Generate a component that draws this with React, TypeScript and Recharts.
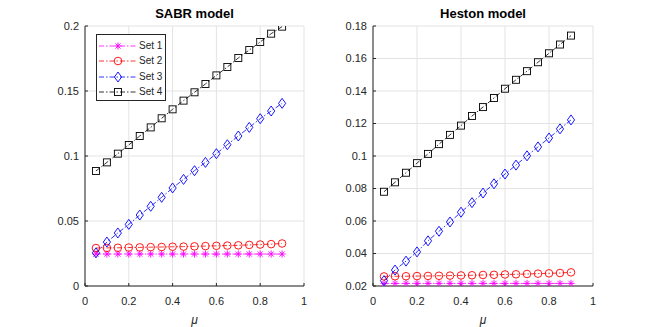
import React from 'react';
import { LineChart, Line, XAxis, YAxis, CartesianGrid, Legend } from 'recharts';

const mu = [0.05, 0.1, 0.15, 0.2, 0.25, 0.3, 0.35, 0.4, 0.45, 0.5, 0.55, 0.6, 0.65, 0.7, 0.75, 0.8, 0.85, 0.9];

const sabrSet1 = [0.0246, 0.0246, 0.0246, 0.0246, 0.0246, 0.0246, 0.0246, 0.0246, 0.0246, 0.0246, 0.0246, 0.0246, 0.0246, 0.0246, 0.0246, 0.0246, 0.0246, 0.0246];
const sabrSet2 = [0.0292, 0.0293, 0.0294, 0.0296, 0.0297, 0.0299, 0.03, 0.0302, 0.0303, 0.0305, 0.0307, 0.0309, 0.0311, 0.0313, 0.0316, 0.0319, 0.0322, 0.0327];
const sabrSet3 = [0.0255, 0.0338, 0.0408, 0.0474, 0.0546, 0.0613, 0.0682, 0.0754, 0.082, 0.0887, 0.0951, 0.1018, 0.1087, 0.1154, 0.122, 0.1287, 0.1346, 0.1405];
const sabrSet4 = [0.0885, 0.0951, 0.1018, 0.1085, 0.1154, 0.122, 0.129, 0.1359, 0.1426, 0.149, 0.1554, 0.162, 0.1685, 0.1754, 0.1815, 0.1877, 0.1941, 0.1995];

const hestonSet1 = [0.0216, 0.0216, 0.0216, 0.0216, 0.0216, 0.0216, 0.0216, 0.0216, 0.0216, 0.0216, 0.0216, 0.0216, 0.0216, 0.0216, 0.0216, 0.0216, 0.0216, 0.0216];
const hestonSet2 = [0.0259, 0.026, 0.026, 0.0261, 0.0262, 0.0263, 0.0264, 0.0265, 0.0266, 0.0268, 0.0269, 0.0271, 0.0272, 0.0274, 0.0276, 0.0278, 0.028, 0.0284];
const hestonSet3 = [0.0233, 0.0298, 0.0353, 0.041, 0.0478, 0.0537, 0.0594, 0.0654, 0.0713, 0.0772, 0.0829, 0.0889, 0.0944, 0.1001, 0.1056, 0.1111, 0.1167, 0.1222];
const hestonSet4 = [0.078, 0.0838, 0.0897, 0.0956, 0.1013, 0.1073, 0.113, 0.1187, 0.1246, 0.1301, 0.1357, 0.1414, 0.1469, 0.1522, 0.1577, 0.1632, 0.1686, 0.1741];

const xTicks = [0, 0.2, 0.4, 0.6, 0.8, 1];
const sabrYTicks = [0, 0.05, 0.1, 0.15, 0.2];
const hestonYTicks = [0.02, 0.04, 0.06, 0.08, 0.1, 0.12, 0.14, 0.16, 0.18];

const seriesNames = ['Set 1', 'Set 2', 'Set 3', 'Set 4'];
const seriesColors = ['#ff00ff', '#ff0000', '#0000ff', '#000000'];
const seriesMarkers = ['star', 'circle', 'diamond', 'square'];
const seriesKeys = ['s1', 's2', 's3', 's4'];

const AXIS = '#262626';
const GRID = '#e3e3e3';
const FONT = '"Liberation Sans", Arial, Helvetica, sans-serif';
const DASH = '5 2 1.5 2';

function Marker({ kind, cx, cy, color }: { kind: string; cx: number; cy: number; color: string }) {
  if (cx == null || cy == null || isNaN(cx) || isNaN(cy)) return <g />;
  const sw = 0.9;
  if (kind === 'star') {
    const r = 3.6;
    const d = r * 0.72;
    return (
      <g stroke={color} strokeWidth={sw} fill="none">
        <line x1={cx - r} y1={cy} x2={cx + r} y2={cy} />
        <line x1={cx} y1={cy - r} x2={cx} y2={cy + r} />
        <line x1={cx - d} y1={cy - d} x2={cx + d} y2={cy + d} />
        <line x1={cx - d} y1={cy + d} x2={cx + d} y2={cy - d} />
      </g>
    );
  }
  if (kind === 'circle') {
    return <circle cx={cx} cy={cy} r={3.8} stroke={color} strokeWidth={sw} fill="none" />;
  }
  if (kind === 'diamond') {
    return (
      <polygon
        points={`${cx},${cy - 5} ${cx + 3.6},${cy} ${cx},${cy + 5} ${cx - 3.6},${cy}`}
        stroke={color}
        strokeWidth={sw}
        fill="none"
      />
    );
  }
  return <rect x={cx - 3.5} y={cy - 3.5} width={7} height={7} stroke={color} strokeWidth={sw} fill="none" />;
}

function buildRows(s1: number[], s2: number[], s3: number[], s4: number[]) {
  return mu.map((m, i) => ({ mu: m, s1: s1[i], s2: s2[i], s3: s3[i], s4: s4[i] }));
}

const sabrRows = buildRows(sabrSet1, sabrSet2, sabrSet3, sabrSet4);
const hestonRows = buildRows(hestonSet1, hestonSet2, hestonSet3, hestonSet4);

function LegendBox() {
  return (
    <div
      style={{
        width: 70,
        height: 67,
        boxSizing: 'border-box',
        border: `1px solid ${AXIS}`,
        background: '#fff',
        paddingTop: 3,
      }}
    >
      {seriesNames.map((name, i) => (
        <div key={name} style={{ display: 'flex', alignItems: 'center', height: 15.5 }}>
          <svg width={42} height={14} style={{ display: 'block' }}>
            <line x1={2} y1={7} x2={39} y2={7} stroke={seriesColors[i]} strokeWidth={0.8} strokeDasharray={DASH} />
            <Marker kind={seriesMarkers[i]} cx={21} cy={7} color={seriesColors[i]} />
          </svg>
          <span style={{ fontFamily: FONT, fontSize: 10, color: AXIS, lineHeight: '14px' }}>{name}</span>
        </div>
      ))}
    </div>
  );
}

type PanelProps = {
  rows: any[];
  yTicks: number[];
  yDomain: [number, number];
  yAxisWidth: number;
  marginRight: number;
  showLegend: boolean;
};

function Panel({ rows, yTicks, yDomain, yAxisWidth, marginRight, showLegend }: PanelProps) {
  const tickStyle = { fill: AXIS, fontSize: 11, fontFamily: FONT };
  return (
    <LineChart width={327} height={327} data={rows} margin={{ top: 26, right: marginRight, bottom: 0, left: 0 }}>
      <CartesianGrid stroke={GRID} strokeWidth={1} />
      <XAxis
        dataKey="mu"
        type="number"
        domain={[0, 1]}
        ticks={xTicks}
        height={41}
        stroke={AXIS}
        tick={tickStyle}
        tickSize={-3}
        tickMargin={14}
        allowDataOverflow
        label={{ value: 'μ', position: 'insideBottom', offset: 3, fill: AXIS, fontSize: 12, fontStyle: 'italic', fontFamily: FONT }}
      />
      <XAxis
        xAxisId="top"
        orientation="top"
        type="number"
        domain={[0, 1]}
        ticks={xTicks}
        height={0}
        stroke={AXIS}
        tick={false}
        tickSize={-3}
      />
      <YAxis
        type="number"
        domain={yDomain}
        ticks={yTicks}
        width={yAxisWidth}
        stroke={AXIS}
        tick={tickStyle}
        tickSize={-3}
        tickMargin={9}
        allowDataOverflow
      />
      <YAxis
        yAxisId="right"
        orientation="right"
        type="number"
        domain={yDomain}
        ticks={yTicks}
        width={0}
        stroke={AXIS}
        tick={false}
        tickSize={-3}
      />
      {showLegend && (
        <Legend
          layout="vertical"
          align="center"
          verticalAlign="middle"
          wrapperStyle={{ position: 'absolute', left: 96, top: 34, width: 70, height: 67 }}
          content={() => <LegendBox />}
        />
      )}
      {seriesKeys.map((k, i) => (
        <Line
          key={k}
          dataKey={k}
          name={seriesNames[i]}
          stroke={seriesColors[i]}
          strokeWidth={0.8}
          strokeDasharray={DASH}
          isAnimationActive={false}
          dot={(p: any) => <Marker key={`${k}-${p.index}`} kind={seriesMarkers[i]} cx={p.cx} cy={p.cy} color={seriesColors[i]} />}
          activeDot={false}
        />
      ))}
    </LineChart>
  );
}

const titleStyle: React.CSSProperties = {
  position: 'absolute',
  top: 6,
  fontFamily: FONT,
  fontWeight: 'bold',
  fontSize: 13,
  color: '#000',
  textAlign: 'center',
  lineHeight: '16px',
};

export default function App() {
  return (
    <div style={{ position: 'absolute', left: 0, top: 0, width: 654, height: 327, background: '#fff', overflow: 'hidden' }}>
      <div style={{ position: 'absolute', left: 0, top: 0 }}>
        <Panel rows={sabrRows} yTicks={sabrYTicks} yDomain={[0, 0.2]} yAxisWidth={85} marginRight={23} showLegend={true} />
      </div>
      <div style={{ position: 'absolute', left: 327, top: 0 }}>
        <Panel rows={hestonRows} yTicks={hestonYTicks} yDomain={[0.02, 0.18]} yAxisWidth={46} marginRight={61} showLegend={false} />
      </div>
      <div style={{ ...titleStyle, left: 85, width: 219 }}>SABR model</div>
      <div style={{ ...titleStyle, left: 373, width: 220 }}>Heston model</div>
    </div>
  );
}
